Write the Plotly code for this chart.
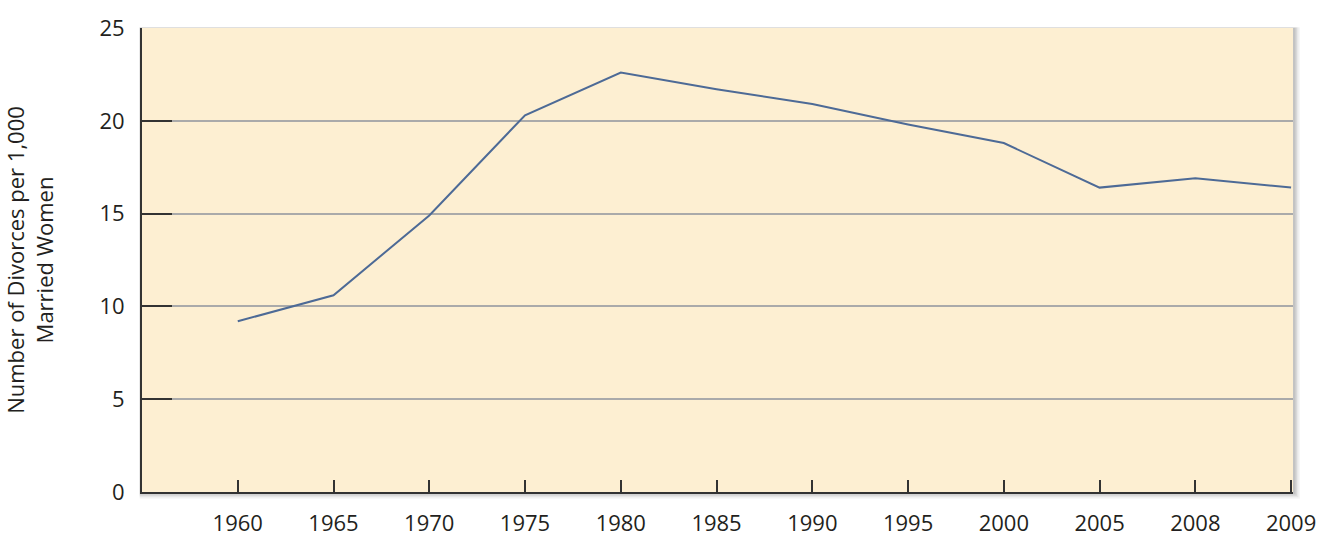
import plotly.graph_objects as go

# Divorce rate per 1,000 married women
years = ["1960", "1965", "1970", "1975", "1980", "1985", "1990",
         "1995", "2000", "2005", "2008", "2009"]
rates = [9.2, 10.6, 14.9, 20.3, 22.6, 21.7, 20.9, 19.8, 18.8, 16.4, 16.9, 16.4]
y_ticks = [0, 5, 10, 15, 20, 25]

FONT = "Open Sans"
TXT = "#231f20"
BG = "#fdefd2"
LINE = "#4d6a96"

fig = go.Figure()
fig.add_trace(go.Scatter(
    x=years, y=rates, mode="lines",
    line=dict(color=LINE, width=2),
    showlegend=False, hoverinfo="x+y",
))

# soft drop shadow + cream panel drawn as paper shapes
for i, op in enumerate([0.05, 0.07, 0.09, 0.12]):
    d = 0.006 - i * 0.0013
    fig.add_shape(type="rect", xref="paper", yref="paper", layer="below",
                  x0=-0.002, x1=1.0 + d, y0=-d * 2.4, y1=1.0 + d * 0.3,
                  fillcolor=f"rgba(60,60,60,{op})", line=dict(width=0))
fig.add_shape(type="rect", xref="paper", yref="paper", layer="below",
              x0=0, x1=1, y0=0, y1=1, fillcolor=BG, line=dict(width=0))

fig.update_xaxes(
    type="category", range=[-1, 11.02], automargin=False,
    ticks="inside", ticklen=12, tickwidth=2, tickcolor="#333333",
    showline=True, linecolor="#333333", linewidth=2,
    showgrid=False, zeroline=False,
    tickfont=dict(family=FONT, size=22, color=TXT),
    ticklabelstandoff=11,
)
fig.update_yaxes(
    range=[0, 25], tickvals=y_ticks, automargin=False,
    ticks="inside", ticklen=30, tickwidth=2, tickcolor="#333333",
    showline=True, linecolor="#333333", linewidth=2,
    showgrid=True, gridcolor="#aaaaaa", gridwidth=1.5, zeroline=False,
    tickfont=dict(family=FONT, size=22, color=TXT),
    ticklabelstandoff=11,
    title=dict(text="Number of Divorces per 1,000<br>Married Women",
               font=dict(family=FONT, size=22, color=TXT), standoff=42),
)

fig.update_layout(
    width=1322, height=537,
    margin=dict(l=142, r=29, t=28, b=45),
    paper_bgcolor="white", plot_bgcolor="rgba(0,0,0,0)",
    font=dict(family=FONT, color=TXT),
)

# drop the default 8px page margin so the figure fills the window exactly
fig.write_html("out.html",
               config={"displayModeBar": False},
               post_script="document.body.style.margin='0';"
                           "document.body.style.overflow='hidden';")
